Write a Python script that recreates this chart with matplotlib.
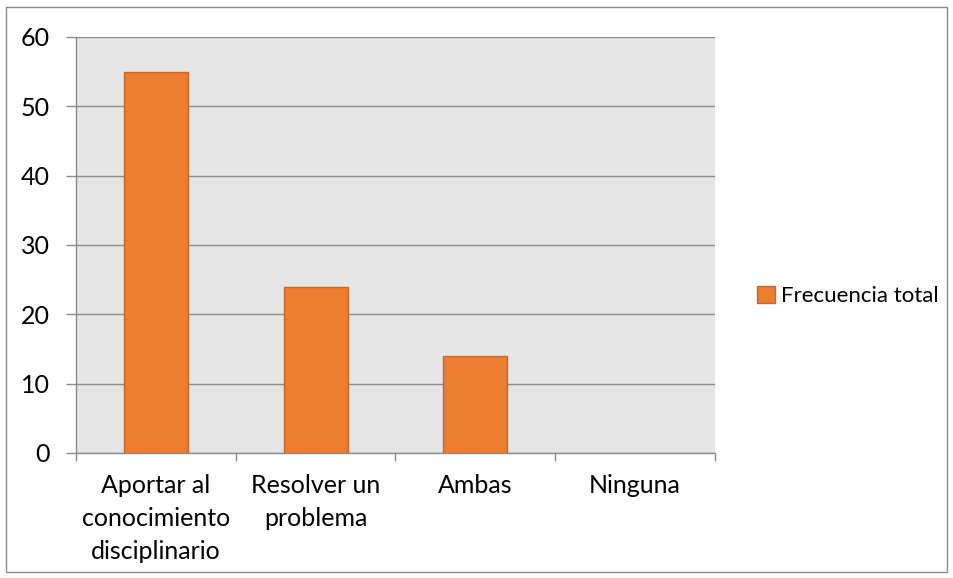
import matplotlib
matplotlib.use("Agg")
import matplotlib.pyplot as plt
from matplotlib.patches import Rectangle, Patch

categories = ["Aportar al\nconocimiento\ndisciplinario", "Resolver un\nproblema", "Ambas", "Ninguna"]
values = [55, 24, 14, 0]
series_name = "Frecuencia total"
yticks = [0, 10, 20, 30, 40, 50, 60]

plt.rcParams['font.family'] = ['Lato', 'DejaVu Sans']

W, H = 954, 578
fig = plt.figure(figsize=(W/100, H/100), dpi=100)
fig.patch.set_facecolor('white')

# outer border
fig.patches.append(Rectangle((6/W, 6/H), (947-6)/W, (571-6)/H, transform=fig.transFigure,
                             fill=False, edgecolor='#8C8C8C', linewidth=1.0))

left, right, top, bottom = 76/W, 715/W, 1-37/H, 1-453/H
ax = fig.add_axes([left, bottom, right-left, top-bottom])
ax.set_facecolor('#E6E6E6')

x = list(range(len(categories)))
lws = [1.0 if v > 0 else 0 for v in values]
ax.bar(x, values, width=0.4, color='#ED7D31', edgecolor='#C5672A', linewidth=lws, zorder=3)

fs = 18
ax.set_xlim(-0.5, len(categories)-0.5)
ax.set_ylim(0, 60)
ax.set_yticks(yticks)
ax.set_yticklabels([str(v) for v in yticks], fontsize=fs)
ax.yaxis.grid(True, color='#8C8C8C', linewidth=1.0, zorder=1)
ax.set_axisbelow(True)

ax.set_xticks([i - 0.5 for i in range(len(categories)+1)], minor=False)
ax.set_xticklabels([])
ax.set_xticks(x, minor=True)
ax.set_xticklabels(categories, minor=True, fontsize=fs, linespacing=1.52, va='top')
ax.tick_params(axis='x', which='minor', length=0, pad=15)
ax.tick_params(axis='x', which='major', length=6, color='#8C8C8C', width=1)
ax.tick_params(axis='y', length=7, color='#8C8C8C', width=1, pad=12)

for s in ['top', 'right']:
    ax.spines[s].set_visible(False)
for s in ['left', 'bottom']:
    ax.spines[s].set_color('#8C8C8C')
    ax.spines[s].set_linewidth(1.0)

handle = Patch(facecolor='#ED7D31', edgecolor='#C5672A', label=series_name)
fig.legend(handles=[handle], loc='center left', bbox_to_anchor=(757/W, 1-296/H),
           frameon=False, fontsize=16, handlelength=0.8, handleheight=0.8,
           handletextpad=0.3, borderaxespad=0, borderpad=0)

fig.savefig("out.png", dpi=100)
